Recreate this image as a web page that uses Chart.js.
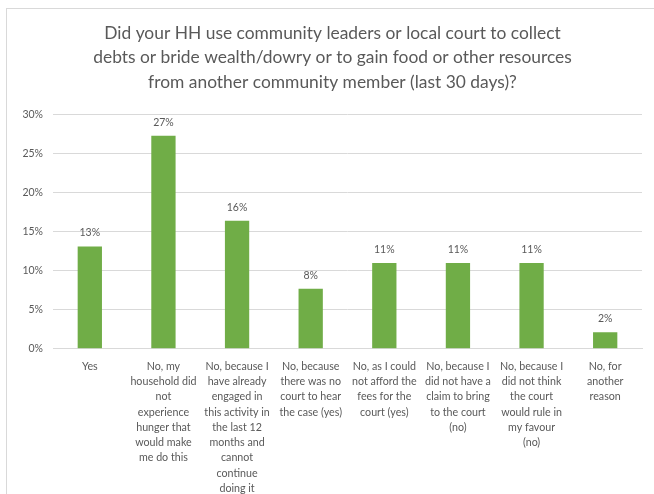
<!DOCTYPE html>
<html>
<head>
<meta charset="utf-8">
<title>Community leaders or local court use</title>
<script src="https://cdn.jsdelivr.net/npm/chart.js@4/dist/chart.umd.min.js"></script>
<style>
    html, body { margin: 0; padding: 0; background: #fff; overflow: hidden; }
    #frame {
        position: absolute;
        left: 6px;
        top: 8px;
        width: 720px;
        height: 520px;
        border: 1px solid #d9d9d9;
        background: #fff;
    }
    #courtChart { position: absolute; left: 0; top: 0; }
</style>
</head>
<body>
<div id="frame">
    <canvas id="courtChart" width="647" height="486"></canvas>
</div>
<script>
const titleLines = [
    'Did your HH use community leaders or local court to collect',
    'debts or bride wealth/dowry or to gain food or other resources',
    'from another community member (last 30 days)?'
];

const categories = [
    ['Yes'],
    ['No, my', 'household did', 'not', 'experience', 'hunger that', 'would make', 'me do this'],
    ['No, because I', 'have already', 'engaged in', 'this activity in', 'the last 12', 'months and', 'cannot', 'continue', 'doing it'],
    ['No, because', 'there was no', 'court to hear', 'the case (yes)'],
    ['No, as I could', 'not afford the', 'fees for the', 'court (yes)'],
    ['No, because I', 'did not have a', 'claim to bring', 'to the court', '(no)'],
    ['No, because I', 'did not think', 'the court', 'would rule in', 'my favour', '(no)'],
    ['No, for', 'another', 'reason']
];

// percent of households per answer
const shares = [13.1, 27.3, 16.4, 7.7, 11.0, 11.0, 11.0, 2.1];

const yMin = 0;
const yMax = 30;
const yStep = 5;

const textGrey = '#595959';
const gridGrey = '#d9d9d9';
const barGreen = '#70ad47';

// value labels above each bar
const barValueLabels = {
    id: 'barValueLabels',
    afterDatasetsDraw(chart) {
        const ctx = chart.ctx;
        const meta = chart.getDatasetMeta(0);
        ctx.save();
        ctx.font = '10.5px Lato';
        ctx.fillStyle = textGrey;
        ctx.textAlign = 'center';
        ctx.textBaseline = 'middle';
        meta.data.forEach((bar, i) => {
            ctx.fillText(Math.round(shares[i]) + '%', bar.x, bar.y - 13.5);
        });
        ctx.restore();
    }
};

const ctx = document.getElementById('courtChart').getContext('2d');
new Chart(ctx, {
    type: 'bar',
    data: {
        labels: categories,
        datasets: [{
            data: shares,
            backgroundColor: barGreen,
            borderWidth: 0,
            categoryPercentage: 1,
            barPercentage: 0.33
        }]
    },
    options: {
        responsive: false,
        animation: false,
        // left padding nudges the full-width title towards the middle of the frame
        layout: { padding: { left: 16, right: 12, top: 0, bottom: 0 } },
        plugins: {
            legend: { display: false },
            tooltip: { enabled: false },
            title: {
                display: true,
                text: titleLines,
                color: textGrey,
                font: { family: 'Lato', size: 17.4, weight: 'normal', lineHeight: 24.5 / 17.4 },
                padding: { top: 11.75, bottom: 20.5 }
            }
        },
        scales: {
            x: {
                grid: { display: false, drawTicks: false },
                border: { display: true, color: gridGrey },
                ticks: {
                    color: textGrey,
                    font: { family: 'Lato', size: 10.7, lineHeight: 15.33 / 10.7 },
                    padding: 9.7,
                    autoSkip: false,
                    maxRotation: 0,
                    minRotation: 0
                },
                afterFit(scale) { scale.height = 146.3; }
            },
            y: {
                min: yMin,
                max: yMax,
                grid: { color: gridGrey, drawTicks: false },
                border: { display: false },
                ticks: {
                    stepSize: yStep,
                    color: textGrey,
                    padding: 10,
                    font: { family: 'Lato', size: 10.5 },
                    callback: v => v + '%'
                },
                afterFit(scale) { scale.width = 30; }
            }
        }
    },
    plugins: [barValueLabels]
});
</script>
</body>
</html>
